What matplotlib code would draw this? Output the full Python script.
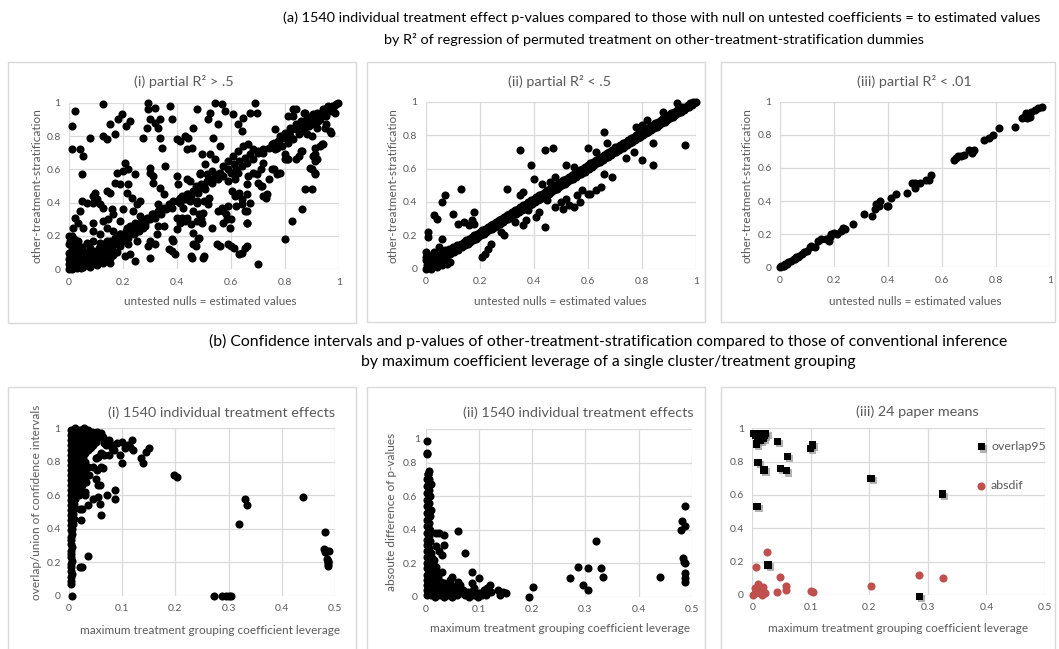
import matplotlib
matplotlib.use("Agg")
import matplotlib.pyplot as plt
from matplotlib.patches import Rectangle
import matplotlib.patheffects as pe

plt.rcParams['font.family'] = ['Lato', 'DejaVu Sans']

# ---------------- data ----------------
a_ticks = [0, 0.2, 0.4, 0.6, 0.8, 1]
a_tick_labels = ['0', '0.2', '0.4', '0.6', '0.8', '1']
b_ticks = [0, 0.1, 0.2, 0.3, 0.4, 0.5]
b_tick_labels = ['0', '0.1', '0.2', '0.3', '0.4', '0.5']

# (a)(i) partial R2 > .5
a1_pts = [
    (0.022,0.95),(0.01,0.86),(0.127,0.99),(0.195,0.93),(0.18,0.90),(0.15,0.87),(0.226,0.89),(0.17,0.81),(0.127,0.80),(0.078,0.79),
    (0.294,1.0),(0.294,0.96),(0.318,0.97),(0.374,0.98),(0.337,0.90),(0.30,0.90),(0.33,0.85),(0.38,0.90),(0.288,0.85),(0.275,0.79),
    (0.337,0.79),(0.343,0.73),(0.473,0.96),(0.46,0.85),(0.442,0.79),(0.411,0.77),(0.436,0.72),(0.454,0.73),(0.01,0.72),(0.04,0.72),
    (0.053,0.68),(0.21,0.86),(0.14,0.78),(0.32,0.88),(0.40,0.78),(0.43,0.80),
    (0.541,1.0),(0.565,0.99),(0.689,1.0),(0.522,0.94),(0.516,0.90),(0.578,0.95),(0.609,0.93),(0.646,0.91),(0.67,0.94),(0.695,0.94),
    (0.553,0.87),(0.627,0.87),(0.64,0.83),(0.535,0.79),(0.559,0.74),(0.491,0.69),(0.522,0.69),(0.541,0.66),(0.504,0.63),(0.485,0.58),
    (0.51,0.57),(0.528,0.59),(0.553,0.57),(0.572,0.62),(0.59,0.65),(0.609,0.68),(0.627,0.71),(0.646,0.74),(0.664,0.75),(0.683,0.72),
    (0.701,0.71),(0.72,0.72),(0.72,0.64),(0.751,0.60),(0.77,0.57),(0.763,0.84),(0.775,0.77),(0.788,0.80),(0.80,0.81),(0.819,0.83),
    (0.831,0.96),(0.812,0.92),(0.837,0.85),(0.862,0.86),(0.874,0.94),(0.893,0.91),(0.905,0.93),(0.924,0.89),(0.948,0.96),(0.973,0.98),
    (0.998,1.0),(0.985,0.94),(0.966,0.83),(0.948,0.85),(0.936,0.75),(0.911,0.73),(0.905,0.68),(0.911,0.65),(0.893,0.61),(0.911,0.58),
    (0.874,0.48),(0.899,0.48),(0.862,0.36),(0.825,0.29),(0.80,0.18),(0.701,0.03),(0.763,0.72),(0.80,0.69),(0.806,0.66),(0.751,0.75),
    (0.862,0.71),(0.627,0.58),(0.664,0.56),(0.695,0.57),(0.713,0.50),(0.732,0.45),(0.658,0.51),(0.615,0.54),(0.59,0.53),(0.602,0.47),
    (0.615,0.44),(0.59,0.38),(0.572,0.35),(0.565,0.37),(0.64,0.39),(0.658,0.35),(0.658,0.28),(0.584,0.30),(0.596,0.25),(0.504,0.48),
    (0.516,0.39),(0.497,0.34),(0.491,0.28),(0.479,0.18),(0.497,0.07),(0.547,0.15),(0.59,0.15),(0.64,0.10),(0.658,0.14),(0.479,0.46),
    (0.473,0.40),
    (0.70,0.70),(0.72,0.70),(0.74,0.73),(0.76,0.76),(0.78,0.78),(0.80,0.79),(0.82,0.80),(0.84,0.84),(0.86,0.86),(0.88,0.88),
    (0.90,0.90),(0.92,0.92),(0.94,0.94),(0.96,0.96),(0.98,0.98),(0.99,0.99),(0.95,0.92),(0.97,0.95),(0.93,0.90),(0.91,0.88),
    (0.89,0.86),(0.87,0.83),(0.85,0.81),(0.83,0.78),(0.81,0.76),(0.79,0.74),(0.77,0.73),(0.78,0.80),(0.80,0.82),(0.82,0.85),
    (0.84,0.87),(0.86,0.89),(0.88,0.91),(0.90,0.92),(0.92,0.94),(0.94,0.96),(0.96,0.98),(0.68,0.66),(0.66,0.64),(0.64,0.62),
    (0.62,0.60),(0.60,0.58),(0.67,0.69),(0.65,0.67),(0.63,0.65),(0.61,0.63),(0.59,0.60),(0.57,0.56),(0.55,0.54),(0.53,0.52),
    (0.56,0.58),(0.54,0.56),(0.52,0.54),(0.50,0.50),(0.48,0.49),(0.46,0.47),(0.44,0.45),(0.51,0.53),(0.49,0.51),(0.47,0.50),
    (0.45,0.44),(0.43,0.42),(0.41,0.40),(0.42,0.44),(0.40,0.41),(0.38,0.37),(0.36,0.36),(0.34,0.33),(0.32,0.31),(0.30,0.30),
    (0.28,0.28),(0.26,0.26),(0.24,0.24),(0.22,0.22),(0.20,0.20),(0.18,0.18),(0.16,0.16),(0.14,0.14),(0.12,0.12),(0.10,0.10),
    (0.08,0.08),(0.06,0.06),(0.37,0.39),(0.35,0.37),(0.33,0.35),(0.31,0.33),(0.29,0.31),(0.27,0.29),(0.25,0.27),(0.23,0.25),
    (0.21,0.23),(0.19,0.21),(0.17,0.19),(0.15,0.17),(0.13,0.15),(0.11,0.13),(0.09,0.11),(0.07,0.09),
    (0.047,0.57),(0.207,0.64),(0.20,0.59),(0.22,0.60),(0.177,0.58),(0.244,0.57),(0.30,0.61),(0.30,0.58),(0.312,0.56),(0.355,0.62),
    (0.40,0.56),(0.405,0.51),(0.436,0.54),(0.448,0.53),(0.485,0.57),(0.17,0.52),(0.189,0.51),(0.22,0.51),(0.214,0.46),(0.232,0.43),
    (0.312,0.52),(0.337,0.49),(0.35,0.45),(0.33,0.39),(0.263,0.41),(0.25,0.39),(0.14,0.47),(0.152,0.46),(0.096,0.46),(0.09,0.44),
    (0.102,0.42),(0.047,0.41),(0.065,0.40),(0.09,0.40),(0.115,0.39),(0.127,0.37),(0.158,0.36),(0.20,0.36),(0.164,0.33),(0.189,0.29),
    (0.04,0.35),(0.022,0.31),(0.034,0.28),(0.09,0.28),(0.127,0.29),(0.146,0.30),(0.238,0.35),(0.263,0.32),(0.288,0.30),(0.306,0.33),
    (0.374,0.38),(0.386,0.41),(0.411,0.43),(0.436,0.45),(0.448,0.41),(0.473,0.41),(0.423,0.37),(0.399,0.31),(0.436,0.31),(0.46,0.35),
    (0.473,0.29),
    (0.016,0.25),(0.053,0.25),(0.09,0.23),(0.115,0.21),(0.14,0.25),(0.164,0.23),(0.189,0.21),(0.214,0.25),(0.226,0.26),(0.244,0.28),
    (0.269,0.29),(0.275,0.25),(0.25,0.23),(0.207,0.19),(0.177,0.17),(0.14,0.17),(0.115,0.16),(0.09,0.17),(0.065,0.16),(0.034,0.17),
    (0.01,0.19),(0.004,0.15),(0.04,0.11),(0.078,0.13),(0.115,0.11),(0.152,0.13),(0.189,0.14),(0.22,0.15),(0.25,0.17),(0.30,0.17),
    (0.325,0.21),(0.30,0.07),(0.294,0.14),(0.386,0.17),(0.38,0.11),(0.392,0.09),(0.454,0.07),(0.46,0.15),(0.226,0.09),(0.244,0.05),
    (0.207,0.08),(0.43,0.29),(0.42,0.31),(0.41,0.28),(0.40,0.24),(0.33,0.26),(0.35,0.26),(0.32,0.15),(0.37,0.12),(0.38,0.18),
    (0.45,0.27),(0.46,0.22),(0.48,0.33),(0.49,0.30),(0.53,0.25),(0.55,0.35),(0.52,0.43),(0.50,0.41),(0.56,0.14),(0.60,0.14),
    (0.61,0.13),(0.50,0.08),(0.45,0.08),(0.47,0.14),(0.48,0.19),(0.63,0.09),(0.65,0.13),(0.66,0.28),(0.57,0.28),(0.58,0.33),
    (0.60,0.30),(0.62,0.38),(0.63,0.46),(0.64,0.42),(0.66,0.45),(0.67,0.40),(0.65,0.35),(0.70,0.52),(0.71,0.50),(0.72,0.44),
    (0.73,0.43),(0.74,0.54),(0.68,0.58),(0.71,0.60),(0.76,0.60),(0.78,0.58),(0.80,0.66),(0.81,0.66),(0.85,0.68),(0.84,0.66),
    (0.86,0.71),(0.88,0.81),(0.90,0.80),(0.91,0.87),(0.92,0.85),(0.95,0.87),(0.97,0.82),(0.93,0.74),(0.94,0.75),(0.90,0.60),
    (0.91,0.57),(0.91,0.69),(0.92,0.66),(0.83,0.92),(0.84,0.96),(0.87,0.94),
    (0.004,0.046),(0.004,0.006),(0.016,0.026),(0.028,0.036),(0.041,0.046),(0.022,0.066),(0.035,0.086),(0.053,0.066),(0.065,0.076),
    (0.078,0.056),(0.09,0.086),(0.102,0.066),(0.115,0.056),(0.127,0.086),(0.14,0.076),(0.152,0.066),(0.164,0.086),(0.177,0.106),
    (0.059,0.106),(0.016,0.106),(0.004,0.086),(0.01,0.126),(0.022,0.146),(0.035,0.126),(0.047,0.136),(0.078,0.016),(0.053,0.016),
    (0.028,0.006),(0.102,0.026),(0.127,0.036),(0.152,0.036),(0.0,0.0),(0.005,0.01),(0.01,0.0),(0.015,0.005),(0.02,0.015),
    (0.03,0.02),(0.04,0.03),(0.06,0.05),(0.07,0.04),(0.085,0.07),(0.03,0.06),(0.015,0.05),(0.0,0.03),(0.0,0.06),(0.0,0.1),
    (0.0,0.15),(0.0,0.2),(0.01,0.2),(0.02,0.18),(0.005,0.17),(0.065,0.03),(0.045,0.01),(0.09,0.04),(0.11,0.09),(0.13,0.11),
    (0.16,0.13),(0.18,0.15),(0.2,0.17),(0.22,0.19),(0.24,0.21),(0.26,0.23),(0.28,0.26),(0.14,0.10),(0.12,0.08),
]

# (a)(ii) partial R2 < .5 : diagonal band + off-diagonal points
a2_band = [
    (0.00,0.00),(0.00,0.05),(0.005,0.02),(0.01,0.08),(0.015,0.01),(0.02,0.04),(0.025,0.07),(0.03,0.02),(0.035,0.05),(0.04,0.08),
    (0.045,0.03),(0.05,0.06),(0.055,0.09),(0.06,0.05),(0.065,0.08),(0.07,0.11),(0.075,0.07),(0.08,0.10),(0.085,0.12),(0.09,0.09),
    (0.095,0.11),(0.10,0.13),(0.105,0.10),(0.11,0.12),(0.115,0.14),(0.12,0.11),(0.125,0.13),(0.13,0.15),(0.135,0.13),(0.14,0.16),
    (0.145,0.14),(0.15,0.17),(0.155,0.15),(0.16,0.18),(0.165,0.16),(0.17,0.19),(0.175,0.17),(0.18,0.20),(0.185,0.18),(0.19,0.21),
    (0.195,0.19),(0.20,0.22),(0.205,0.20),(0.21,0.23),(0.215,0.21),(0.22,0.24),(0.225,0.22),(0.23,0.25),(0.235,0.23),(0.24,0.26),
    (0.245,0.24),(0.25,0.27),(0.255,0.25),(0.26,0.28),(0.265,0.26),(0.27,0.29),(0.275,0.27),(0.28,0.30),(0.285,0.28),(0.29,0.31),
    (0.295,0.29),(0.30,0.32),(0.305,0.30),(0.31,0.33),(0.315,0.31),(0.32,0.34),(0.325,0.32),(0.33,0.35),(0.335,0.33),(0.34,0.36),
    (0.345,0.34),(0.35,0.37),(0.355,0.35),(0.36,0.38),(0.365,0.36),(0.37,0.39),(0.375,0.37),(0.38,0.40),(0.385,0.38),(0.39,0.41),
    (0.395,0.39),(0.40,0.42),(0.405,0.40),(0.41,0.43),(0.415,0.41),(0.42,0.44),(0.425,0.42),(0.43,0.45),(0.435,0.43),(0.44,0.46),
    (0.445,0.44),(0.45,0.47),(0.455,0.45),(0.46,0.48),(0.465,0.46),(0.47,0.49),(0.475,0.47),(0.48,0.50),(0.485,0.48),(0.49,0.51),
    (0.495,0.49),(0.50,0.52),(0.505,0.50),(0.51,0.53),(0.515,0.51),(0.52,0.54),(0.525,0.52),(0.53,0.55),(0.535,0.53),(0.54,0.56),
    (0.545,0.54),(0.55,0.57),(0.555,0.55),(0.56,0.58),(0.565,0.56),(0.57,0.59),(0.575,0.57),(0.58,0.60),(0.585,0.58),(0.59,0.61),
    (0.595,0.59),(0.60,0.62),(0.605,0.60),(0.61,0.63),(0.615,0.61),(0.62,0.64),(0.625,0.62),(0.63,0.65),(0.635,0.63),(0.64,0.66),
    (0.645,0.64),(0.65,0.67),(0.655,0.65),(0.66,0.68),(0.665,0.66),(0.67,0.69),(0.675,0.67),(0.68,0.70),(0.685,0.68),(0.69,0.71),
    (0.695,0.69),(0.70,0.72),(0.705,0.70),(0.71,0.73),(0.715,0.71),(0.72,0.74),(0.725,0.72),(0.73,0.75),(0.735,0.73),(0.74,0.76),
    (0.745,0.74),(0.75,0.77),(0.755,0.75),(0.76,0.78),(0.765,0.76),(0.77,0.79),(0.775,0.77),(0.78,0.80),(0.785,0.78),(0.79,0.81),
    (0.795,0.79),(0.80,0.82),(0.805,0.80),(0.81,0.83),(0.815,0.81),(0.82,0.84),(0.825,0.82),(0.83,0.85),(0.835,0.83),(0.84,0.86),
    (0.845,0.84),(0.85,0.87),(0.855,0.85),(0.86,0.88),(0.865,0.86),(0.87,0.89),(0.875,0.87),(0.88,0.90),(0.885,0.88),(0.89,0.91),
    (0.895,0.89),(0.90,0.92),(0.905,0.90),(0.91,0.93),(0.915,0.91),(0.92,0.94),(0.925,0.92),(0.93,0.95),(0.935,0.93),(0.94,0.96),
    (0.945,0.94),(0.95,0.97),(0.955,0.95),(0.96,0.97),(0.965,0.96),(0.97,0.98),(0.975,0.97),(0.98,0.99),(0.985,0.98),(0.99,1.0),
    (0.995,0.99),(1.0,1.0),
]
a2_outliers = [
    (0.01,0.22),(0.01,0.19),(0.03,0.32),(0.04,0.30),(0.05,0.13),(0.06,0.40),(0.07,0.44),(0.06,0.18),(0.10,0.33),(0.13,0.48),
    (0.12,0.27),(0.14,0.28),(0.16,0.26),(0.17,0.29),(0.18,0.34),(0.18,0.27),(0.30,0.48),(0.35,0.71),(0.35,0.44),(0.36,0.46),
    (0.39,0.62),(0.40,0.54),(0.43,0.51),(0.44,0.71),(0.47,0.72),(0.46,0.52),(0.48,0.55),(0.52,0.62),(0.55,0.61),(0.56,0.58),
    (0.59,0.58),(0.60,0.72),(0.63,0.70),(0.66,0.82),(0.67,0.75),(0.70,0.73),(0.73,0.72),(0.78,0.85),(0.80,0.86),(0.82,0.89),
    (0.84,0.75),(0.88,0.94),(0.93,0.99),(0.96,0.74),(0.84,0.62),(0.80,0.65),(0.77,0.70),(0.74,0.66),(0.69,0.55),(0.66,0.57),
    (0.60,0.45),(0.61,0.45),(0.63,0.47),(0.65,0.49),(0.58,0.47),(0.56,0.44),(0.57,0.40),(0.53,0.38),(0.55,0.37),(0.51,0.36),
    (0.52,0.42),(0.50,0.40),(0.48,0.37),(0.45,0.41),(0.44,0.25),(0.41,0.31),(0.38,0.35),(0.36,0.26),(0.33,0.28),(0.29,0.20),
    (0.28,0.22),(0.23,0.12),(0.24,0.15),(0.22,0.09),(0.21,0.07),(0.08,0.03),(0.09,0.04),(0.03,0.10),(0.02,0.05),(0.37,0.29),
    (0.42,0.34),(0.00,0.10),(0.00,0.07),(0.02,0.00),(0.04,0.01),(0.06,0.02),
]

# (a)(iii) partial R2 < .01
a3_x = [0, 0.005, 0.01, 0.015, 0.02, 0.025, 0.03, 0.04, 0.05, 0.055, 0.06, 0.065, 0.07, 0.08, 0.09, 0.10, 0.11, 0.115,
        0.13, 0.14, 0.15, 0.17, 0.18, 0.185, 0.19, 0.20, 0.21, 0.225, 0.235, 0.24, 0.27, 0.31, 0.34, 0.35, 0.355, 0.365,
        0.37, 0.395, 0.40, 0.41, 0.43, 0.47, 0.49, 0.50, 0.50, 0.52, 0.54, 0.55, 0.56, 0.645, 0.65, 0.66, 0.67, 0.68, 0.70,
        0.71, 0.715, 0.72, 0.755, 0.775, 0.79, 0.81, 0.87, 0.895, 0.905, 0.91, 0.915, 0.925, 0.93, 0.945, 0.955, 0.97]
a3_y = [0, 0.005, 0.01, 0.01, 0.02, 0.02, 0.03, 0.04, 0.05, 0.05, 0.06, 0.06, 0.07, 0.08, 0.09, 0.10, 0.12, 0.13,
        0.12, 0.16, 0.17, 0.17, 0.16, 0.18, 0.20, 0.21, 0.20, 0.22, 0.24, 0.23, 0.26, 0.32, 0.31, 0.35, 0.38, 0.37,
        0.40, 0.37, 0.37, 0.42, 0.44, 0.45, 0.51, 0.48, 0.51, 0.51, 0.53, 0.53, 0.56, 0.65, 0.66, 0.67, 0.67, 0.68, 0.71,
        0.69, 0.70, 0.71, 0.77, 0.78, 0.80, 0.84, 0.85, 0.90, 0.91, 0.93, 0.90, 0.91, 0.94, 0.95, 0.96, 0.97]

# (b)(i) overlap/union of confidence intervals vs leverage
b1_pts = [
    (0.005,0.0),(0.272,0.0),(0.287,0.0),(0.295,0.0),(0.300,0.0),(0.305,0.0),(0.32,0.43),(0.33,0.58),(0.335,0.54),(0.44,0.59),
    (0.482,0.38),(0.480,0.28),(0.481,0.26),(0.485,0.27),(0.488,0.27),(0.485,0.22),(0.486,0.21),(0.487,0.20),(0.486,0.19),(0.487,0.18),
    (0.198,0.72),(0.203,0.71),(0.020,0.17),(0.025,0.17),(0.035,0.24),(0.022,0.45),(0.035,0.54),(0.045,0.58),(0.055,0.59),(0.058,0.55),
    (0.060,0.48),(0.055,0.66),(0.058,0.66),(0.072,0.60),(0.087,0.58),(0.087,0.63),(0.038,0.72),(0.045,0.77),(0.050,0.70),(0.052,0.75),
    (0.060,0.77),(0.063,0.76),(0.055,0.83),(0.050,0.82),(0.060,0.85),(0.065,0.84),(0.075,0.84),(0.080,0.88),(0.085,0.87),(0.090,0.91),
    (0.095,0.84),(0.100,0.79),(0.100,0.92),(0.105,0.88),(0.110,0.90),(0.115,0.89),(0.118,0.93),(0.120,0.87),(0.135,0.82),(0.140,0.79),
    (0.145,0.86),(0.150,0.88),(0.075,0.93),(0.080,0.90),(0.070,0.90),(0.065,0.91),(0.060,0.96),(0.035,0.77),(0.030,0.80),(0.030,0.85),
    (0.040,0.88),(0.045,0.90),(0.050,0.92),(0.055,0.95),(0.040,0.95),(0.035,0.98),(0.025,0.99),(0.030,0.60),(0.025,0.52),(0.020,0.52),
    (0.030,0.62),
    (0.003,0.07),(0.004,0.09),(0.003,0.11),(0.005,0.13),(0.003,0.15),(0.004,0.17),(0.003,0.19),(0.005,0.21),(0.003,0.23),(0.004,0.25),
    (0.003,0.27),(0.005,0.29),(0.003,0.31),(0.004,0.33),(0.003,0.35),(0.005,0.37),(0.003,0.39),(0.006,0.40),
    (0.003,0.42),(0.008,0.43),(0.004,0.45),(0.009,0.46),(0.003,0.48),(0.008,0.49),(0.004,0.51),(0.010,0.52),(0.003,0.54),(0.009,0.55),
    (0.004,0.57),(0.011,0.58),(0.003,0.60),
    (0.010,0.61),(0.018,0.60),(0.004,0.63),(0.012,0.64),(0.020,0.63),(0.003,0.66),(0.010,0.67),(0.018,0.66),(0.004,0.69),(0.012,0.70),
    (0.021,0.69),(0.003,0.72),(0.010,0.73),(0.019,0.72),(0.004,0.75),(0.012,0.76),(0.020,0.75),(0.003,0.78),(0.010,0.79),(0.018,0.78),
    (0.025,0.77),(0.004,0.81),(0.012,0.82),(0.020,0.81),(0.027,0.80),(0.003,0.84),(0.010,0.85),(0.019,0.84),(0.026,0.83),
    (0.004,0.87),(0.012,0.88),(0.020,0.87),(0.028,0.86),(0.036,0.87),(0.003,0.90),(0.010,0.91),(0.018,0.90),(0.026,0.89),(0.034,0.90),
    (0.042,0.89),(0.004,0.93),(0.012,0.94),(0.020,0.93),(0.028,0.92),(0.036,0.93),(0.044,0.92),(0.050,0.93),(0.003,0.96),(0.010,0.97),
    (0.018,0.96),(0.026,0.95),(0.034,0.96),(0.042,0.97),(0.050,0.96),(0.056,0.95),(0.004,0.99),(0.012,1.0),(0.020,0.99),(0.028,1.0),
    (0.036,0.99),(0.044,0.98),(0.052,0.98),(0.060,0.97),(0.064,0.95),(0.030,0.74),(0.028,0.70),(0.025,0.66),(0.032,0.68),
]

# (b)(ii) absolute difference of p-values vs leverage
b2_pts = [
    (0.003,0.93),(0.002,0.86),(0.003,0.85),(0.005,0.73),(0.007,0.70),(0.010,0.67),(0.008,0.60),(0.010,0.52),(0.005,0.42),(0.020,0.38),
    (0.025,0.38),(0.035,0.37),(0.035,0.31),(0.060,0.39),(0.073,0.26),(0.030,0.25),(0.025,0.27),(0.020,0.30),(0.087,0.15),(0.087,0.08),
    (0.100,0.11),(0.120,0.07),(0.115,0.05),(0.135,0.04),(0.140,0.01),(0.145,0.03),(0.150,0.02),(0.195,0.0),(0.202,0.06),(0.272,0.11),
    (0.287,0.18),(0.296,0.07),(0.305,0.17),(0.305,0.04),(0.320,0.33),(0.330,0.17),(0.333,0.12),(0.440,0.12),(0.482,0.45),(0.480,0.40),
    (0.487,0.54),(0.488,0.42),(0.484,0.23),(0.486,0.21),(0.487,0.20),(0.487,0.14),(0.488,0.11),(0.488,0.09),(0.050,0.12),(0.060,0.09),
    (0.065,0.07),(0.070,0.04),(0.080,0.03),(0.090,0.05),(0.100,0.02),(0.105,0.01),(0.110,0.04),(0.045,0.10),(0.040,0.05),(0.055,0.05),
    (0.030,0.15),(0.020,0.18),(0.015,0.22),
    (0.004,0.73),(0.006,0.75),
    (0.002,0.70),(0.006,0.68),(0.003,0.66),(0.007,0.64),(0.002,0.62),(0.006,0.60),(0.003,0.58),(0.007,0.56),(0.002,0.54),(0.006,0.52),
    (0.003,0.50),(0.008,0.48),(0.002,0.46),(0.006,0.44),(0.003,0.42),(0.008,0.40),(0.002,0.38),(0.007,0.36),(0.003,0.34),(0.009,0.33),
    (0.002,0.31),(0.007,0.29),(0.003,0.27),(0.010,0.26),(0.002,0.24),(0.007,0.22),(0.013,0.21),(0.003,0.20),(0.009,0.19),(0.015,0.18),
    (0.002,0.17),(0.007,0.16),(0.013,0.15),(0.020,0.15),(0.003,0.13),(0.009,0.13),(0.016,0.12),(0.024,0.12),(0.002,0.10),(0.008,0.10),
    (0.014,0.09),(0.021,0.10),(0.028,0.09),(0.035,0.08),(0.003,0.07),(0.010,0.07),(0.017,0.06),(0.025,0.07),(0.032,0.06),(0.040,0.06),
    (0.048,0.07),(0.002,0.04),(0.008,0.04),(0.015,0.03),(0.022,0.04),(0.030,0.03),(0.038,0.04),(0.046,0.03),(0.054,0.04),(0.062,0.05),
    (0.003,0.01),(0.010,0.01),(0.018,0.0),(0.026,0.01),(0.034,0.0),(0.042,0.01),(0.050,0.0),(0.058,0.01),(0.066,0.02),(0.074,0.01),
    (0.082,0.0),(0.090,0.01),(0.098,0.0),(0.106,0.02),(0.114,0.01),(0.122,0.03),(0.070,0.03),(0.078,0.02),(0.086,0.03),(0.010,0.20),
    (0.012,0.23),
]

# (b)(iii) 24 paper means
b3_overlap_x = [0.003, 0.006, 0.008, 0.010, 0.012, 0.015, 0.018, 0.020, 0.023, 0.014, 0.007, 0.010,
                0.020, 0.008, 0.027, 0.043, 0.048, 0.058, 0.060, 0.099, 0.103, 0.203, 0.325, 0.286]
b3_overlap_y = [0.97, 0.96, 0.97, 0.95, 0.96, 0.97, 0.94, 0.96, 0.97, 0.93, 0.905, 0.795,
                0.75, 0.53, 0.18, 0.92, 0.76, 0.745, 0.83, 0.88, 0.90, 0.70, 0.605, -0.01]
b3_absdif_x = [0.002, 0.004, 0.006, 0.008, 0.010, 0.012, 0.013, 0.015, 0.018, 0.020, 0.022, 0.025,
               0.042, 0.047, 0.058, 0.058, 0.100, 0.104, 0.202, 0.285, 0.325, 0.005, 0.009, 0.016]
b3_absdif_y = [0.0, 0.04, 0.17, 0.02, 0.065, 0.05, 0.01, 0.03, 0.05, 0.02, 0.01, 0.26,
               0.015, 0.105, 0.055, 0.03, 0.025, 0.02, 0.055, 0.12, 0.10, 0.01, 0.03, 0.0]

# ---------------- drawing ----------------
W, H = 1059, 649
fig = plt.figure(figsize=(W / 100, H / 100), dpi=100)
renderer = fig.canvas.get_renderer()
GRAY = '#595959'
GRID = '#D9D9D9'
MS = 34
TICK_FS = 7.5


def frame(x0, y0, x1, y1):
    fig.add_artist(Rectangle((x0 / W, 1 - y1 / H), (x1 - x0) / W, (y1 - y0) / H,
                             transform=fig.transFigure, fill=False, edgecolor=GRID, lw=1.0))


def ax_at(x0, y0, x1, y1, xlim, ticks, labels, ylabels=a_tick_labels):
    ax = fig.add_axes([x0 / W, 1 - y1 / H, (x1 - x0) / W, (y1 - y0) / H])
    ax.set_xlim(*xlim)
    ax.set_ylim(0, 1)
    ax.set_xticks(ticks, labels=labels)
    ax.set_yticks(a_ticks, labels=ylabels)
    for s in ax.spines.values():
        s.set_visible(False)
    ax.grid(True, color=GRID, lw=0.9)
    ax.set_axisbelow(True)
    ax.tick_params(length=0, labelsize=TICK_FS, labelcolor=GRAY, pad=6)
    ax.patch.set_alpha(0)
    return ax


def fit_size(s, target, rot=0, base=10):
    t = fig.text(0, 0, s, rotation=rot, fontsize=base)
    bb = t.get_window_extent(renderer=renderer)
    t.remove()
    w = bb.height if rot else bb.width
    return base * target / w


def label(s, cx, cy, size, rot=0, color=GRAY):
    return fig.text(cx / W, 1 - cy / H, s, ha='center', va='center', rotation=rot,
                    color=color, fontsize=size)


def dots(ax, pts):
    xs = [p[0] for p in pts]
    ys = [p[1] for p in pts]
    ax.scatter(xs, ys, s=MS, c='black', linewidths=0, clip_on=False, zorder=3)


TITLE_A_FS = fit_size('(a) 1540 individual treatment effect p-values compared to those with null on untested coefficients = to estimated values', 757)
TITLE_B_FS = fit_size('(b) Confidence intervals and p-values of other-treatment-stratification compared to those of conventional inference', 800)
PANEL_FS = fit_size('(ii) partial R\u00b2 < .5', 103)
AXLAB_FS = fit_size('untested nulls = estimated values', 172)

# frames
frame(8, 62, 356, 323)
frame(367, 62, 705, 322)
frame(721, 62, 1055, 322)
frame(8, 387, 356, 700)
frame(367, 387, 705, 700)
frame(721, 387, 1055, 700)

# top titles
label('(a) 1540 individual treatment effect p-values compared to those with null on untested coefficients = to estimated values',
      661.5, 18, TITLE_A_FS, color='black')
label('by R\u00b2 of regression of permuted treatment on other-treatment-stratification dummies',
      653.5, 40, TITLE_A_FS, color='black')
label('(b) Confidence intervals and p-values of other-treatment-stratification compared to those of conventional inference',
      608, 341, TITLE_B_FS, color='black')
label('by maximum coefficient leverage of a single cluster/treatment grouping',
      608, 362, TITLE_B_FS, color='black')

# (a) panels
ax1 = ax_at(69, 102.7, 339, 269.3, (0, 1), a_ticks, a_tick_labels)
dots(ax1, a1_pts)
ax2 = ax_at(425.7, 101.7, 695.7, 268.7, (0, 1), a_ticks, a_tick_labels)
dots(ax2, a2_band)
dots(ax2, a2_outliers)
ax3 = ax_at(780, 101.7, 1050, 267.3, (0, 1), a_ticks, a_tick_labels)
ax3.scatter(a3_x, a3_y, s=MS, c='black', linewidths=0, clip_on=False, zorder=3)

label('(i) partial R\u00b2 > .5', 184, 82, PANEL_FS)
label('(ii) partial R\u00b2 < .5', 560, 82, PANEL_FS)
label('(iii) partial R\u00b2 < .01', 914, 82, PANEL_FS)
for cx in (210, 560, 915):
    label('untested nulls = estimated values', cx, 301.5, AXLAB_FS)
for cx in (36.7, 393, 746.7):
    label('other-treatment-stratification', cx, 186, AXLAB_FS, rot=90)

# (b) panels
bx1 = ax_at(69, 428.3, 335, 595.7, (0, 0.5), b_ticks, b_tick_labels)
dots(bx1, b1_pts)
# in (ii) the top "1" label sits a little below its gridline
bx2 = ax_at(425.7, 429.2, 691.7, 596.7, (0, 0.5), b_ticks, b_tick_labels,
            ylabels=a_tick_labels[:-1] + [''])
bx2.annotate(a_tick_labels[-1], xy=(0, 1), xycoords='axes fraction', xytext=(-6 * 0.72, -10 * 0.72),
             textcoords='offset points', ha='right', va='center', fontsize=TICK_FS, color=GRAY)
dots(bx2, b2_pts)
bx3 = ax_at(752.3, 428.3, 1045, 595, (0, 0.5), b_ticks, b_tick_labels)
shadow = [pe.SimplePatchShadow(offset=(1.5, -1.5), shadow_rgbFace='#7f7f7f', alpha=0.6), pe.Normal()]
bx3.scatter(b3_overlap_x, b3_overlap_y, s=28, marker='s', c='black', linewidths=0, clip_on=False,
            zorder=3, path_effects=shadow, label='overlap95')
bx3.scatter(b3_absdif_x, b3_absdif_y, s=34, marker='o', c='#C0504D', linewidths=0, clip_on=False,
            zorder=3, label='absdif')
bx3.legend(loc='upper left', bbox_to_anchor=(975 / W, 1 - 441 / H), bbox_transform=fig.transFigure,
           frameon=False, fontsize=AXLAB_FS * 1.05, labelcolor=GRAY, handlelength=1.0, handletextpad=0.3,
           labelspacing=2.3, borderpad=0, borderaxespad=0)

label('(i) 1540 individual treatment effects', 221, 413, PANEL_FS)
label('(ii) 1540 individual treatment effects', 578, 413, PANEL_FS)
label('(iii) 24 paper means', 917, 412, PANEL_FS)
label('maximum treatment grouping coefficient leverage', 210, 631, AXLAB_FS)
label('maximum treatment grouping coefficient leverage', 560, 628, AXLAB_FS)
label('maximum treatment grouping coefficient leverage', 898, 628, AXLAB_FS)
label('overlap/union of confidence intervals', 36.7, 502, AXLAB_FS, rot=90)
label('absoute difference of p-values', 391.7, 511.7, AXLAB_FS, rot=90)

fig.savefig('out.png', dpi=100)
